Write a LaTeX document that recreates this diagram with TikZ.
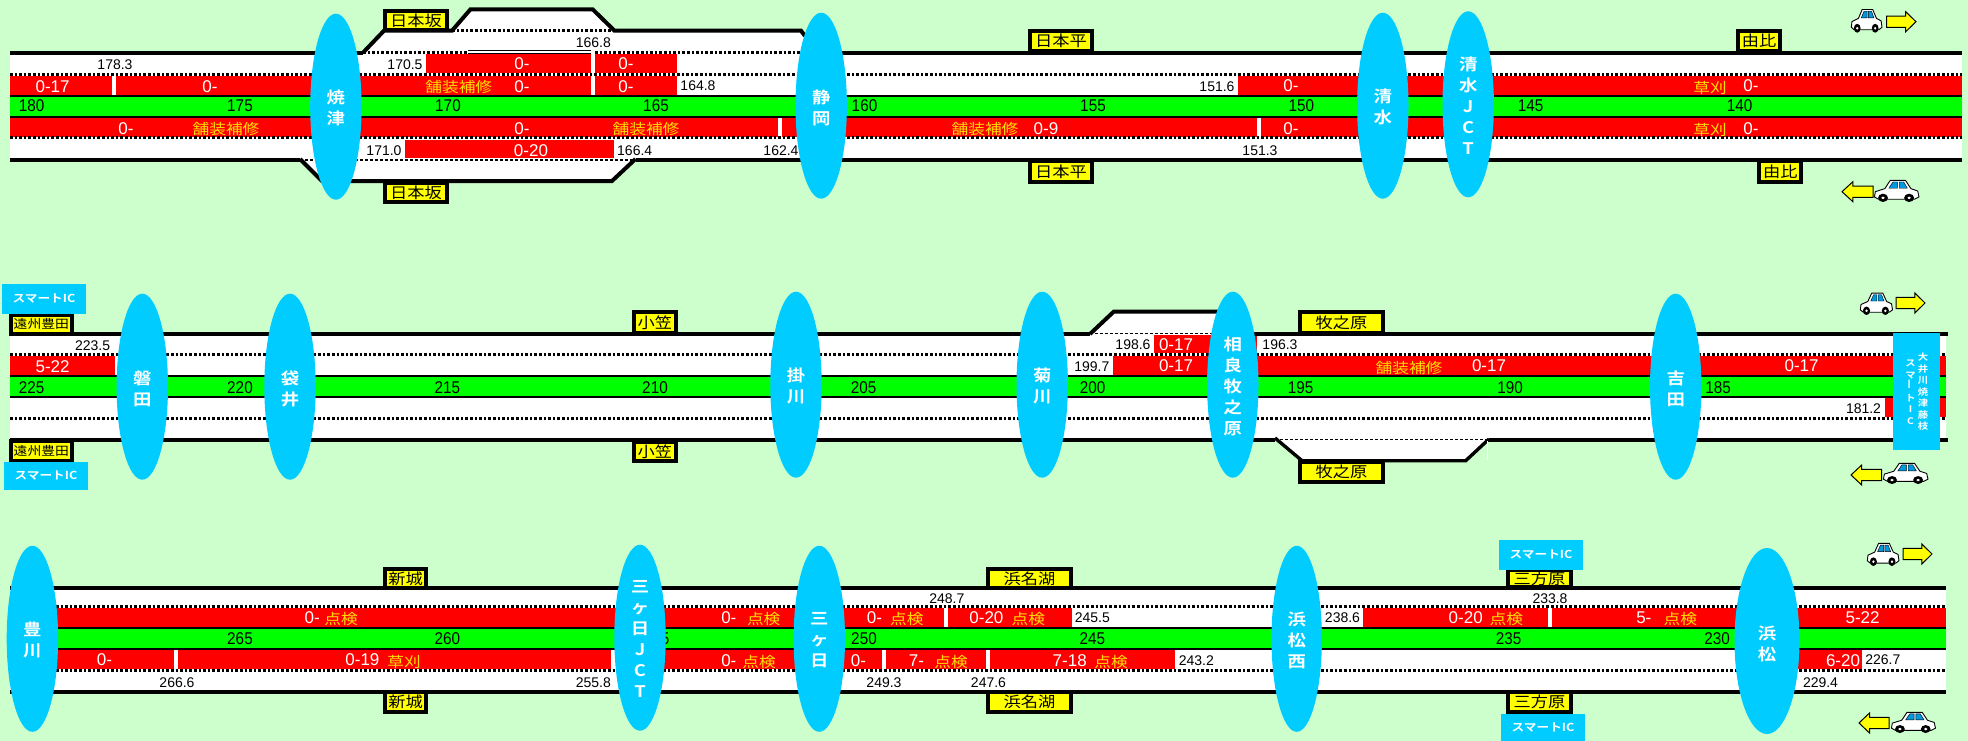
\documentclass[tikz,border=0pt]{standalone}
\usepackage{fontspec}
\setmainfont{Liberation Sans}
\newfontfamily\kmf[FakeStretch=0.9]{Liberation Sans}
\newfontfamily\cjk[FakeStretch=1.15]{Noto Sans CJK JP}
\newfontfamily\cjkb[FakeStretch=1.15]{Noto Sans CJK JP Bold}
\usetikzlibrary{shapes.geometric}
\definecolor{bgc}{HTML}{CCFFCC}
\definecolor{sky}{HTML}{00CCFF}
\definecolor{wred}{HTML}{FF0000}
\definecolor{wgrn}{HTML}{00FF00}
\definecolor{wyel}{HTML}{FFFF00}
\definecolor{wora}{HTML}{FFE000}
\definecolor{glass}{HTML}{0099DD}
\newcount\lbn
\tikzset{
  lane/.style={fill=white},
  work/.style={fill=wred},
  med/.style={fill=wgrn},
  edgeline/.style={draw=black,line width=4pt},
  midline/.style={draw=black,line width=2pt},
  dotline/.style={draw=black,line width=3pt,dash pattern=on 2.5pt off 2.1pt},
  thindot/.style={draw=black,line width=1.4pt,dash pattern=on 3pt off 2pt},
  km/.style={inner sep=0pt,text=black,font=\kmf\fontsize{17}{17}\selectfont},
  num/.style={inner sep=0pt,text=black,font=\fontsize{14}{14}\selectfont},
  wt/.style={inner sep=0pt,text=white,font=\fontsize{17}{17}\selectfont},
  kind/.style={inner sep=0pt,text=wora,font=\cjk\fontsize{14.5}{14.5}\selectfont},
  stnshape/.style={shape=ellipse,fill=sky,inner sep=0pt,outer sep=0pt},
  stntext/.style={inner sep=0pt,text=white,align=center,font=\cjkb\fontsize{16}{21}\selectfont},
  pabox/.style={draw=black,line width=4pt,fill=wyel,inner sep=0pt,outer sep=0pt,text=black,font=\cjk\fontsize{15}{15}\selectfont},
  smallpa/.style={pabox,font=\cjk\fontsize{12}{12}\selectfont},
  smartbox/.style={fill=sky,inner sep=0pt,outer sep=0pt,text=white,font=\cjkb\fontsize{11}{11}\selectfont},
  sidetext/.style={inner sep=0pt,text=white,align=center,font=\cjkb\fontsize{9}{11.5}\selectfont},
  dirarrow/.style={fill=wyel,draw=black,line width=1pt,line join=miter},
  carbody/.style={fill=white,draw=black,line width=0.9pt,line join=round},
  carglass/.style={fill=glass,draw=black,line width=0.4pt},
  carwheel/.style={fill=black},
}
\newcommand{\lb}[4]{\global\advance\lbn by 1\relax\node[#1] (t\the\lbn) at (#2,#3) {#4};}
\newcommand{\stn}[6]{% name,x,cy,rx,ty,text
  \node[stnshape,minimum width={2*#4*1pt},minimum height={186pt}] (#1) at (#2,#3) {};
  \node[stntext] (#1t) at (#2,#5) {#6};}
\newcommand{\pa}[6]{% style,x0,y0,x1,y1,text
  \global\advance\lbn by 1\relax
  \node[#1,minimum width={(#4-#2-4)*1pt},minimum height={(#5-#3-4)*1pt}] (p\the\lbn) at ({(#2+#4)/2},{(#3+#5)/2}) {#6};}
\newcommand{\smt}[5]{%
  \global\advance\lbn by 1\relax
  \node[smartbox,minimum width={(#3-#1)*1pt},minimum height={(#4-#2)*1pt}] (s\the\lbn) at ({(#1+#3)/2},{(#2+#4)/2}) {#5};}
\newcommand{\carpic}[4]{% x0,y0,w,h
  \begin{scope}[shift={(#1,#2)},x=#3pt,y=-#4pt]
    \path[carbody] (0.01,0.78) -- (0.03,0.55) -- (0.24,0.42) -- (0.36,0.06) -- (0.70,0.06) -- (0.82,0.42) -- (0.97,0.52) -- (1,0.78) -- (0.9,0.88) -- (0.1,0.88) -- cycle;
    \path[carglass] (0.42,0.13) -- (0.52,0.13) -- (0.52,0.40) -- (0.33,0.40) -- cycle;
    \path[carglass] (0.56,0.13) -- (0.66,0.13) -- (0.74,0.40) -- (0.56,0.40) -- cycle;
    \path[carwheel] (0.2,0.82) ellipse [x radius=0.11,y radius=0.18];
    \path[carwheel] (0.78,0.82) ellipse [x radius=0.11,y radius=0.18];
    \path[fill=white] (0.2,0.82) ellipse [x radius=0.04,y radius=0.06];
    \path[fill=white] (0.78,0.82) ellipse [x radius=0.04,y radius=0.06];
  \end{scope}}
\newcommand{\rarr}[4]{\begin{scope}[shift={(#1,#2)},x=#3pt,y=-#4pt]
  \path[dirarrow] (0,0.22) -- (0.65,0.22) -- (0.65,0) -- (1,0.5) -- (0.65,1) -- (0.65,0.78) -- (0,0.78) -- cycle;\end{scope}}
\newcommand{\larr}[4]{\begin{scope}[shift={(#1,#2)},x=#3pt,y=-#4pt]
  \path[dirarrow] (1,0.22) -- (0.35,0.22) -- (0.35,0) -- (0,0.5) -- (0.35,1) -- (0.35,0.78) -- (1,0.78) -- cycle;\end{scope}}
\begin{document}
\begin{tikzpicture}[x=1pt,y=-1pt]
\useasboundingbox (0,0) rectangle (1968,741);
\fill[bgc] (0,0) rectangle (1968,741);

%% ================= ROW 1 =================
\fill[lane] (10,52.7) rectangle (1962,160);
\fill[lane] (363,53) -- (384,30.7) -- (452,30.7) -- (470.5,9.3) -- (592.6,9.3) -- (614.5,30.7) -- (801,30.7) -- (805,36) -- (805,53) -- cycle;
\fill[lane] (300,159) -- (322,181) -- (612,181) -- (635.5,159) -- cycle;
\fill[work] (426,54) rectangle (591,73);
\fill[work] (595,54) rectangle (677,73);
\fill[work] (10,76) rectangle (677,95);
\fill[work] (1238,76) rectangle (1962,95);
\fill[work] (10,118) rectangle (1962,136.7);
\fill[work] (405,140) rectangle (613.6,158);
\fill[med] (10,97) rectangle (1962,116);
\fill[lane] (112.4,76) rectangle (116,97);
\fill[lane] (591,52) rectangle (595,97);
\fill[lane] (778,117) rectangle (782,137);
\fill[lane] (1257,117) rectangle (1261,137);
\draw[midline] (10,96) -- (1962,96);
\draw[midline] (10,116.7) -- (1962,116.7);
\draw[dotline] (10,74.3) -- (1962,74.3);
\draw[dotline] (10,138) -- (1962,138);
\draw[edgeline] (10,52.7) -- (363,52.7);
\draw[edgeline] (805,52.7) -- (1962,52.7);
\draw[edgeline] (10,160) -- (300,160);
\draw[edgeline] (635.5,160) -- (1962,160);
\draw[edgeline] (363,52.7) -- (384,30.7) -- (452,30.7) -- (470.5,9.3) -- (592.6,9.3) -- (614.5,30.7) -- (801,30.7) -- (805,36);
\draw[edgeline] (300,159) -- (322,181) -- (612,181) -- (635.5,159);
\draw[dotline] (452,31) -- (614,31);
\draw[dotline] (363,52.3) -- (467,52.3);
\draw[black,line width=4pt] (468,52.3) -- (591,52.3);
\draw[white,line width=1.6pt] (468,52.3) -- (591,52.3);
\draw[dotline] (595,52.3) -- (805,52.3);
\draw[thindot,line width=2pt] (300,159.7) -- (635,159.7);

\lb{num}{115}{64.3}{178.3}
\lb{num}{405}{65}{170.5}
\lb{num}{593.4}{42.7}{166.8}
\lb{num}{698}{85.7}{164.8}
\lb{num}{1217}{86.7}{151.6}
\lb{num}{1260}{150.7}{151.3}
\lb{num}{781}{150.7}{162.4}
\lb{num}{384}{150.7}{171.0}
\lb{num}{634.7}{150.7}{166.4}
\lb{km}{31.6}{106}{180}
\lb{km}{240}{106}{175}
\lb{km}{448}{106}{170}
\lb{km}{656}{106}{165}
\lb{km}{864.5}{106}{160}
\lb{km}{1093}{106}{155}
\lb{km}{1301.4}{106}{150}
\lb{km}{1530.5}{106}{145}
\lb{km}{1739.7}{106}{140}
\lb{wt}{52.6}{86.7}{0-17}
\lb{wt}{210}{86.7}{0-}
\lb{kind}{458.8}{87.3}{舗装補修}
\lb{wt}{522}{86.7}{0-}
\lb{wt}{626}{86.7}{0-}
\lb{wt}{522}{64}{0-}
\lb{wt}{626}{64}{0-}
\lb{wt}{1291}{86}{0-}
\lb{kind}{1710}{87.7}{草刈}
\lb{wt}{1751}{86}{0-}
\lb{wt}{126}{129}{0-}
\lb{kind}{226}{129.3}{舗装補修}
\lb{wt}{522}{129}{0-}
\lb{wt}{531}{150.7}{0-20}
\lb{kind}{646}{129.3}{舗装補修}
\lb{kind}{985}{129.3}{舗装補修}
\lb{wt}{1046}{128.3}{0-9}
\lb{wt}{1291}{128.3}{0-}
\lb{kind}{1710}{130}{草刈}
\lb{wt}{1751}{128.3}{0-}

\stn{yaizu}{335.9}{106.7}{25.7}{108.3}{焼\\津}
\stn{shizuoka}{821.2}{105.7}{25.7}{108.3}{静\\岡}
\stn{shimizu}{1382.8}{105.7}{25.7}{107}{清\\水}
\stn{shimizuj}{1468.2}{104.3}{25.7}{106}{清\\水\\J\\C\\T}

\pa{pabox}{383}{8.7}{449}{32}{日本坂}
\pa{pabox}{383}{181}{449}{204}{日本坂}
\pa{pabox}{1028}{29.3}{1094}{53.3}{日本平}
\pa{pabox}{1028}{159.3}{1094}{184}{日本平}
\pa{pabox}{1736.3}{29.3}{1782}{53.3}{由比}
\pa{pabox}{1757.4}{159.3}{1803.3}{184}{由比}

%% ================= ROW 2 =================
\fill[lane] (10,333.7) rectangle (1946,440);
\fill[lane] (1090,334) -- (1113.7,311.7) -- (1240,311.7) -- (1240,334) -- cycle;
\fill[lane] (1275,438) -- (1302,460.7) -- (1465.7,460.7) -- (1489,439) -- cycle;
\fill[work] (10,356) rectangle (115,375);
\fill[work] (1113,356) rectangle (1946,375);
\fill[work] (1154,335) rectangle (1257,352.7);
\fill[work] (1884.5,397) rectangle (1946,416.7);
\fill[med] (10,377) rectangle (1946,396);
\draw[midline] (10,376) -- (1946,376);
\draw[midline] (10,396.7) -- (1946,396.7);
\draw[dotline] (10,354.3) -- (1946,354.3);
\draw[dotline] (10,418.3) -- (1946,418.3);
\draw[edgeline] (10,333.7) -- (1090,333.7);
\draw[edgeline] (1233,333.7) -- (1948,333.7);
\draw[edgeline] (10,440) -- (1275,440);
\draw[edgeline] (1489,440) -- (1948,440);
\draw[edgeline] (1090,334) -- (1113.7,311.7) -- (1240,311.7);
\draw[edgeline,line width=3.4pt] (1275,438) -- (1302,460.7) -- (1465.7,460.7) -- (1489,439);
\draw[thindot] (1090,333.5) -- (1233,333.5);
\draw[thindot] (1275,439.7) -- (1489,439.7);
\draw[white,line width=0.8pt] (1487,441) -- (1487,460);

\lb{num}{92.6}{345.3}{223.5}
\lb{wt}{52.6}{366.7}{5-22}
\lb{km}{31.6}{387.3}{225}
\lb{km}{240}{387.3}{220}
\lb{km}{447.4}{387.3}{215}
\lb{km}{655}{387.3}{210}
\lb{km}{863.7}{387.3}{205}
\lb{km}{1092.7}{387.3}{200}
\lb{km}{1300.6}{387.3}{195}
\lb{km}{1510}{387.3}{190}
\lb{km}{1718}{387.3}{185}
\lb{num}{1133}{344.3}{198.6}
\lb{wt}{1176}{345}{0-17}
\lb{num}{1280}{345}{196.3}
\lb{num}{1091.8}{366.7}{199.7}
\lb{wt}{1176}{366}{0-17}
\lb{kind}{1409}{367.7}{舗装補修}
\lb{wt}{1489}{366}{0-17}
\lb{wt}{1801.6}{366}{0-17}
\lb{num}{1863.5}{408.3}{181.2}

\stn{iwata}{142.3}{386.7}{25.7}{388.5}{磐\\田}
\stn{fukuroi}{290}{386.7}{25.7}{388.5}{袋\\井}
\stn{kakegawa}{796}{384.7}{25.7}{386.3}{掛\\川}
\stn{kikugawa}{1042.2}{384.7}{25.7}{386.3}{菊\\川}
\stn{sagara}{1232.8}{384.7}{25.7}{386.7}{相\\良\\牧\\之\\原}
\stn{yoshida}{1675.7}{386.7}{25.7}{388.8}{吉\\田}

\pa{smallpa}{8.6}{312.7}{74}{335.7}{遠州豊田}
\pa{smallpa}{8.6}{439}{74}{463}{遠州豊田}
\smt{2}{284}{86}{314}{スマートIC}
\smt{4}{462}{88}{490}{スマートIC}
\pa{pabox}{631.7}{310.3}{678}{334.7}{小笠}
\pa{pabox}{631.7}{440}{678}{463.3}{小笠}
\pa{pabox}{1298}{310.3}{1385}{334.7}{牧之原}
\pa{pabox}{1298}{460}{1385}{484}{牧之原}
\smt{1893}{332.7}{1940}{450}{}
\node[sidetext] (oigawa) at (1923,392) {大\\井\\川\\焼\\津\\藤\\枝};
\node[sidetext] (oigawas) at (1910.6,392) {ス\\マ\\\rotatebox{90}{ー}\\ト\\I\\C};

%% ================= ROW 3 =================
\fill[lane] (10,588) rectangle (1946,691.7);
\fill[work] (10,608) rectangle (1071.8,627);
\fill[work] (1363,608) rectangle (1946,627);
\fill[work] (10,650) rectangle (1175.3,668.7);
\fill[work] (1767,650) rectangle (1862,668.7);
\fill[med] (10,629) rectangle (1946,647.7);
\fill[lane] (943.9,607) rectangle (948,628);
\fill[lane] (1548,607) rectangle (1552,628);
\fill[lane] (174,649) rectangle (178,670);
\fill[lane] (611,649) rectangle (615.5,670);
\fill[lane] (882,649) rectangle (885.8,670);
\fill[lane] (986,649) rectangle (990,670);
\draw[midline] (10,628) -- (1946,628);
\draw[midline] (10,648.7) -- (1946,648.7);
\draw[dotline] (10,606.3) -- (1946,606.3);
\draw[dotline] (10,670.3) -- (1946,670.3);
\draw[edgeline] (10,588) -- (1946,588);
\draw[edgeline] (10,691.7) -- (1946,691.7);

\lb{wt}{312.3}{617.3}{0-}
\lb{kind}{341}{619.3}{点検}
\lb{km}{240}{639}{265}
\lb{km}{447.4}{639}{260}
\lb{km}{665}{639}{5}
\lb{wt}{104.4}{660}{0-}
\lb{wt}{362.4}{660}{0-19}
\lb{kind}{404}{662.3}{草刈}
\lb{num}{177}{682.7}{266.6}
\lb{num}{593.4}{682.7}{255.8}
\lb{wt}{728.8}{617.3}{0-}
\lb{kind}{763.7}{619.3}{点検}
\lb{wt}{874.4}{617.3}{0-}
\lb{kind}{906.8}{619.3}{点検}
\lb{wt}{986.4}{617.3}{0-20}
\lb{kind}{1028.4}{619.3}{点検}
\lb{num}{1092.4}{617.3}{245.5}
\lb{num}{946.8}{598.3}{248.7}
\lb{km}{864}{639}{250}
\lb{km}{1092.4}{639}{245}
\lb{wt}{728.8}{660.7}{0-}
\lb{kind}{759}{662.3}{点検}
\lb{wt}{858.4}{660.7}{0-}
\lb{wt}{916.5}{660.7}{7-}
\lb{kind}{951}{662.3}{点検}
\lb{wt}{1069.7}{660.7}{7-18}
\lb{kind}{1111}{662.3}{点検}
\lb{num}{1196.4}{660.7}{243.2}
\lb{num}{884}{682.7}{249.3}
\lb{num}{988.5}{682.7}{247.6}
\lb{num}{1342.5}{618}{238.6}
\lb{wt}{1465.7}{617.3}{0-20}
\lb{kind}{1506.4}{619.3}{点検}
\lb{wt}{1643.8}{617.3}{5-}
\lb{kind}{1680.4}{619.3}{点検}
\lb{wt}{1862.6}{618}{5-22}
\lb{num}{1550}{598.3}{233.8}
\lb{km}{1508.7}{639}{235}
\lb{km}{1717}{639}{230}
\lb{wt}{1843}{661}{6-20}
\lb{num}{1882.8}{660}{226.7}
\lb{num}{1820.5}{682.7}{229.4}

\stn{toyokawa}{32.4}{638.8}{25.7}{639.5}{豊\\川}
\stn{mikkabij}{640}{637.7}{25.7}{639.3}{三\\ヶ\\日\\J\\C\\T}
\stn{mikkabi}{819.3}{638.8}{25.7}{640}{三\\ヶ\\日}
\stn{hamanishi}{1296.7}{638.8}{25.2}{640}{浜\\松\\西}
\stn{hamamatsu}{1767}{641}{32.5}{643.7}{浜\\松}

\pa{pabox}{383}{567.3}{428}{590}{新城}
\pa{pabox}{383}{690.3}{428}{714}{新城}
\pa{pabox}{986}{567.3}{1073}{590}{浜名湖}
\pa{pabox}{986}{690.3}{1073}{714}{浜名湖}
\pa{pabox}{1506}{567.7}{1572.8}{589}{三方原}
\pa{pabox}{1506}{690.3}{1572.8}{714}{三方原}
\smt{1499}{540}{1583}{570}{スマートIC}
\smt{1501}{714}{1585}{741}{スマートIC}

%% ================= CARS =================
\carpic{1851}{8}{31}{24.7}   \rarr{1886.6}{11.7}{29.4}{20}
\larr{1842}{181.7}{31}{20}   \carpic{1874}{179}{45}{23}
\carpic{1860}{291.7}{32.5}{23.3} \rarr{1896}{293}{29}{20}
\larr{1851}{465}{30.5}{20}   \carpic{1883}{462}{45}{22}
\carpic{1867}{542}{32}{24}   \rarr{1903}{544}{29}{20}
\larr{1859}{713}{30}{20}     \carpic{1891}{711}{44.5}{22}
\end{tikzpicture}
\end{document}
